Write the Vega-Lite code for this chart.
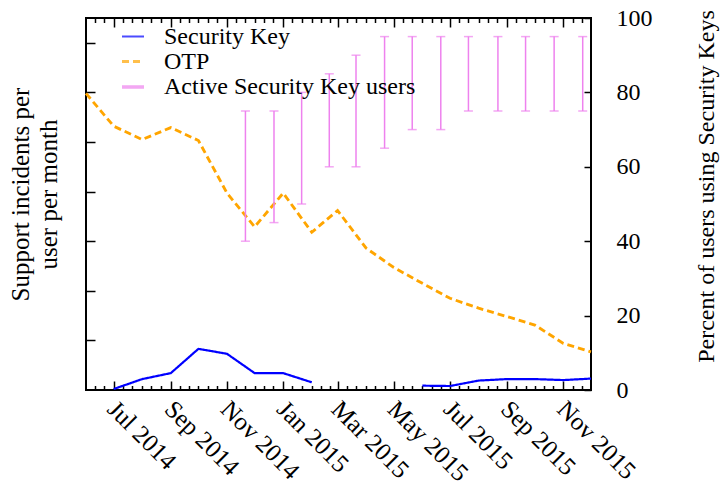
{
  "$schema": "https://vega.github.io/schema/vega-lite/v6.json",
  "width": 505,
  "height": 372,
  "autosize": {"type": "none"},
  "padding": {"left": 86, "top": 18, "right": 132, "bottom": 97},
  "config": {
    "font": "Liberation Serif",
    "view": {"stroke": "black", "strokeWidth": 2},
    "axis": {
      "labelFont": "Liberation Serif",
      "titleFont": "Liberation Serif",
      "labelFontSize": 24,
      "titleFontSize": 24,
      "titleFontWeight": "normal",
      "labelColor": "black",
      "titleColor": "black",
      "tickColor": "black",
      "tickWidth": 1.5,
      "domain": false,
      "grid": false
    }
  },
  "datasets": {
    "lines": [
      {"date": "2014-06-01", "series": "OTP", "value": 5.98},
      {"date": "2014-07-01", "series": "OTP", "value": 5.32},
      {"date": "2014-08-01", "series": "OTP", "value": 5.05},
      {"date": "2014-09-01", "series": "OTP", "value": 5.29},
      {"date": "2014-10-01", "series": "OTP", "value": 5.03},
      {"date": "2014-11-01", "series": "OTP", "value": 3.97},
      {"date": "2014-12-01", "series": "OTP", "value": 3.29},
      {"date": "2015-01-01", "series": "OTP", "value": 3.97},
      {"date": "2015-02-01", "series": "OTP", "value": 3.18},
      {"date": "2015-03-01", "series": "OTP", "value": 3.62},
      {"date": "2015-04-01", "series": "OTP", "value": 2.86},
      {"date": "2015-05-01", "series": "OTP", "value": 2.47},
      {"date": "2015-06-01", "series": "OTP", "value": 2.15},
      {"date": "2015-07-01", "series": "OTP", "value": 1.85},
      {"date": "2015-08-01", "series": "OTP", "value": 1.65},
      {"date": "2015-09-01", "series": "OTP", "value": 1.48},
      {"date": "2015-10-01", "series": "OTP", "value": 1.31},
      {"date": "2015-11-01", "series": "OTP", "value": 0.94},
      {"date": "2015-12-01", "series": "OTP", "value": 0.77},
      {"date": "2014-07-01", "series": "Security Key", "value": 0.02},
      {"date": "2014-08-01", "series": "Security Key", "value": 0.22},
      {"date": "2014-09-01", "series": "Security Key", "value": 0.34},
      {"date": "2014-10-01", "series": "Security Key", "value": 0.83},
      {"date": "2014-11-01", "series": "Security Key", "value": 0.73},
      {"date": "2014-12-01", "series": "Security Key", "value": 0.34},
      {"date": "2015-01-01", "series": "Security Key", "value": 0.34},
      {"date": "2015-02-01", "series": "Security Key", "value": 0.155},
      {"date": "2015-03-01", "series": "Security Key", "value": null},
      {"date": "2015-04-01", "series": "Security Key", "value": null},
      {"date": "2015-05-01", "series": "Security Key", "value": null},
      {"date": "2015-06-01", "series": "Security Key", "value": 0.087},
      {"date": "2015-07-01", "series": "Security Key", "value": 0.08},
      {"date": "2015-08-01", "series": "Security Key", "value": 0.19},
      {"date": "2015-09-01", "series": "Security Key", "value": 0.22},
      {"date": "2015-10-01", "series": "Security Key", "value": 0.22},
      {"date": "2015-11-01", "series": "Security Key", "value": 0.2},
      {"date": "2015-12-01", "series": "Security Key", "value": 0.23}
    ],
    "bars": [
      {"date": "2014-11-21", "series": "Active Security Key users", "lo": 40, "hi": 75},
      {"date": "2014-12-22", "series": "Active Security Key users", "lo": 45, "hi": 75},
      {"date": "2015-01-21", "series": "Active Security Key users", "lo": 50, "hi": 80},
      {"date": "2015-02-20", "series": "Active Security Key users", "lo": 60, "hi": 85},
      {"date": "2015-03-21", "series": "Active Security Key users", "lo": 60, "hi": 90},
      {"date": "2015-04-21", "series": "Active Security Key users", "lo": 65, "hi": 95},
      {"date": "2015-05-21", "series": "Active Security Key users", "lo": 70, "hi": 95},
      {"date": "2015-06-21", "series": "Active Security Key users", "lo": 70, "hi": 95},
      {"date": "2015-07-21", "series": "Active Security Key users", "lo": 75, "hi": 95},
      {"date": "2015-08-22", "series": "Active Security Key users", "lo": 75, "hi": 95},
      {"date": "2015-09-21", "series": "Active Security Key users", "lo": 75, "hi": 95},
      {"date": "2015-10-22", "series": "Active Security Key users", "lo": 75, "hi": 95},
      {"date": "2015-11-22", "series": "Active Security Key users", "lo": 75, "hi": 95}
    ]
  },
  "layer": [
    {
      "data": {"name": "lines"},
      "mark": {"type": "line", "invalid": "break-paths-show-domains"},
      "encoding": {
        "x": {
          "field": "date",
          "type": "temporal",
          "scale": {"type": "utc", "domain": [{"year": 2014, "month": 6, "date": 1, "utc": true}, {"year": 2015, "month": 12, "date": 1, "utc": true}]},
          "axis": {
            "orient": "bottom",
            "title": null,
            "values": [
              {"year": 2014, "month": 6, "date": 11, "utc": true}, {"year": 2014, "month": 6, "date": 21, "utc": true},
              {"year": 2014, "month": 7, "date": 1, "utc": true}, {"year": 2014, "month": 7, "date": 11, "utc": true}, {"year": 2014, "month": 7, "date": 21, "utc": true},
              {"year": 2014, "month": 8, "date": 1, "utc": true}, {"year": 2014, "month": 8, "date": 11, "utc": true}, {"year": 2014, "month": 8, "date": 21, "utc": true},
              {"year": 2014, "month": 9, "date": 1, "utc": true}, {"year": 2014, "month": 9, "date": 11, "utc": true}, {"year": 2014, "month": 9, "date": 21, "utc": true},
              {"year": 2014, "month": 10, "date": 1, "utc": true}, {"year": 2014, "month": 10, "date": 11, "utc": true}, {"year": 2014, "month": 10, "date": 21, "utc": true},
              {"year": 2014, "month": 11, "date": 1, "utc": true}, {"year": 2014, "month": 11, "date": 11, "utc": true}, {"year": 2014, "month": 11, "date": 21, "utc": true},
              {"year": 2014, "month": 12, "date": 1, "utc": true}, {"year": 2014, "month": 12, "date": 11, "utc": true}, {"year": 2014, "month": 12, "date": 21, "utc": true},
              {"year": 2015, "month": 1, "date": 1, "utc": true}, {"year": 2015, "month": 1, "date": 11, "utc": true}, {"year": 2015, "month": 1, "date": 21, "utc": true},
              {"year": 2015, "month": 2, "date": 1, "utc": true}, {"year": 2015, "month": 2, "date": 11, "utc": true}, {"year": 2015, "month": 2, "date": 21, "utc": true},
              {"year": 2015, "month": 3, "date": 1, "utc": true}, {"year": 2015, "month": 3, "date": 11, "utc": true}, {"year": 2015, "month": 3, "date": 21, "utc": true},
              {"year": 2015, "month": 4, "date": 1, "utc": true}, {"year": 2015, "month": 4, "date": 11, "utc": true}, {"year": 2015, "month": 4, "date": 21, "utc": true},
              {"year": 2015, "month": 5, "date": 1, "utc": true}, {"year": 2015, "month": 5, "date": 11, "utc": true}, {"year": 2015, "month": 5, "date": 21, "utc": true},
              {"year": 2015, "month": 6, "date": 1, "utc": true}, {"year": 2015, "month": 6, "date": 11, "utc": true}, {"year": 2015, "month": 6, "date": 21, "utc": true},
              {"year": 2015, "month": 7, "date": 1, "utc": true}, {"year": 2015, "month": 7, "date": 11, "utc": true}, {"year": 2015, "month": 7, "date": 21, "utc": true},
              {"year": 2015, "month": 8, "date": 1, "utc": true}, {"year": 2015, "month": 8, "date": 11, "utc": true}, {"year": 2015, "month": 8, "date": 21, "utc": true},
              {"year": 2015, "month": 9, "date": 1, "utc": true}, {"year": 2015, "month": 9, "date": 11, "utc": true}, {"year": 2015, "month": 9, "date": 21, "utc": true},
              {"year": 2015, "month": 10, "date": 1, "utc": true}, {"year": 2015, "month": 10, "date": 11, "utc": true}, {"year": 2015, "month": 10, "date": 21, "utc": true},
              {"year": 2015, "month": 11, "date": 1, "utc": true}, {"year": 2015, "month": 11, "date": 11, "utc": true}, {"year": 2015, "month": 11, "date": 21, "utc": true}
            ],
            "labelExpr": "(utcdate(datum.value) == 1 && utcmonth(datum.value) % 2 == 0) ? utcFormat(datum.value, '%b %Y') : ''",
            "tickSize": {"condition": {"test": "utcdate(datum.value) == 1 && utcmonth(datum.value) % 2 == 0", "value": -9}, "value": -4.5},
            "labelAngle": 45,
            "labelAlign": "left",
            "labelBaseline": "top",
            "labelPadding": 15,
            "labelOffset": 6,
            "labelFontSize": 25,
            "labelOverlap": false,
            "labelFlush": false,
            "labelBound": false
          }
        },
        "y": {
          "field": "value",
          "type": "quantitative",
          "scale": {"domain": [0, 7.5], "nice": false, "zero": false},
          "axis": {
            "orient": "left",
            "values": [1, 2, 3, 4, 5, 6, 7],
            "labels": false,
            "tickSize": -9,
            "title": ["Support incidents per", "user per month"],
            "titleFontSize": 25,
            "titleLineHeight": 28,
            "titlePadding": 24,
            "titleY": 176
          }
        },
        "color": {
          "field": "series",
          "type": "nominal",
          "scale": {"domain": ["Security Key", "OTP", "Active Security Key users"], "range": ["#0000ff", "#ffa500", "#ee82ee"]},
          "legend": {
            "orient": "none",
            "legendX": 34,
            "legendY": 6,
            "padding": 0,
            "title": null,
            "symbolType": "stroke",
            "symbolSize": 484,
            "symbolStrokeWidth": 2.5,
            "labelFont": "Liberation Serif",
            "labelFontSize": 24,
            "labelColor": "black",
            "labelOffset": 18,
            "labelLimit": 400,
            "rowPadding": -5
          }
        },
        "strokeDash": {
          "field": "series",
          "type": "nominal",
          "scale": {"domain": ["Security Key", "OTP", "Active Security Key users"], "range": [[1, 0], [7, 4], [1, 0]]},
          "legend": {
            "orient": "none",
            "legendX": 34,
            "legendY": 6,
            "padding": 0,
            "title": null,
            "symbolType": "stroke",
            "symbolSize": 484,
            "symbolStrokeWidth": 2.5,
            "labelFont": "Liberation Serif",
            "labelFontSize": 24,
            "labelColor": "black",
            "labelOffset": 18,
            "labelLimit": 400,
            "rowPadding": -5
          }
        },
        "strokeWidth": {
          "field": "series",
          "type": "nominal",
          "scale": {"domain": ["Security Key", "OTP", "Active Security Key users"], "range": [2.2, 3.5, 1.5]},
          "legend": null
        }
      }
    },
    {
      "data": {"name": "bars"},
      "mark": {"type": "errorbar", "ticks": {"size": 9, "thickness": 1.5}, "thickness": 1.5},
      "encoding": {
        "x": {
          "field": "date",
          "type": "temporal",
          "axis": {
            "orient": "top",
            "title": null,
            "labels": false,
            "values": [
              {"year": 2014, "month": 6, "date": 11, "utc": true}, {"year": 2014, "month": 6, "date": 21, "utc": true},
              {"year": 2014, "month": 7, "date": 1, "utc": true}, {"year": 2014, "month": 7, "date": 11, "utc": true}, {"year": 2014, "month": 7, "date": 21, "utc": true},
              {"year": 2014, "month": 8, "date": 1, "utc": true}, {"year": 2014, "month": 8, "date": 11, "utc": true}, {"year": 2014, "month": 8, "date": 21, "utc": true},
              {"year": 2014, "month": 9, "date": 1, "utc": true}, {"year": 2014, "month": 9, "date": 11, "utc": true}, {"year": 2014, "month": 9, "date": 21, "utc": true},
              {"year": 2014, "month": 10, "date": 1, "utc": true}, {"year": 2014, "month": 10, "date": 11, "utc": true}, {"year": 2014, "month": 10, "date": 21, "utc": true},
              {"year": 2014, "month": 11, "date": 1, "utc": true}, {"year": 2014, "month": 11, "date": 11, "utc": true}, {"year": 2014, "month": 11, "date": 21, "utc": true},
              {"year": 2014, "month": 12, "date": 1, "utc": true}, {"year": 2014, "month": 12, "date": 11, "utc": true}, {"year": 2014, "month": 12, "date": 21, "utc": true},
              {"year": 2015, "month": 1, "date": 1, "utc": true}, {"year": 2015, "month": 1, "date": 11, "utc": true}, {"year": 2015, "month": 1, "date": 21, "utc": true},
              {"year": 2015, "month": 2, "date": 1, "utc": true}, {"year": 2015, "month": 2, "date": 11, "utc": true}, {"year": 2015, "month": 2, "date": 21, "utc": true},
              {"year": 2015, "month": 3, "date": 1, "utc": true}, {"year": 2015, "month": 3, "date": 11, "utc": true}, {"year": 2015, "month": 3, "date": 21, "utc": true},
              {"year": 2015, "month": 4, "date": 1, "utc": true}, {"year": 2015, "month": 4, "date": 11, "utc": true}, {"year": 2015, "month": 4, "date": 21, "utc": true},
              {"year": 2015, "month": 5, "date": 1, "utc": true}, {"year": 2015, "month": 5, "date": 11, "utc": true}, {"year": 2015, "month": 5, "date": 21, "utc": true},
              {"year": 2015, "month": 6, "date": 1, "utc": true}, {"year": 2015, "month": 6, "date": 11, "utc": true}, {"year": 2015, "month": 6, "date": 21, "utc": true},
              {"year": 2015, "month": 7, "date": 1, "utc": true}, {"year": 2015, "month": 7, "date": 11, "utc": true}, {"year": 2015, "month": 7, "date": 21, "utc": true},
              {"year": 2015, "month": 8, "date": 1, "utc": true}, {"year": 2015, "month": 8, "date": 11, "utc": true}, {"year": 2015, "month": 8, "date": 21, "utc": true},
              {"year": 2015, "month": 9, "date": 1, "utc": true}, {"year": 2015, "month": 9, "date": 11, "utc": true}, {"year": 2015, "month": 9, "date": 21, "utc": true},
              {"year": 2015, "month": 10, "date": 1, "utc": true}, {"year": 2015, "month": 10, "date": 11, "utc": true}, {"year": 2015, "month": 10, "date": 21, "utc": true},
              {"year": 2015, "month": 11, "date": 1, "utc": true}, {"year": 2015, "month": 11, "date": 11, "utc": true}, {"year": 2015, "month": 11, "date": 21, "utc": true}
            ],
            "tickSize": {"condition": {"test": "utcdate(datum.value) == 1 && utcmonth(datum.value) % 2 == 0", "value": -9}, "value": -4.5}
          }
        },
        "y": {
          "field": "lo",
          "type": "quantitative",
          "scale": {"domain": [0, 100], "nice": false},
          "axis": {
            "orient": "right",
            "values": [0, 20, 40, 60, 80, 100],
            "tickSize": -7,
            "labelPadding": 32,
            "title": "Percent of users using Security Keys",
            "titleAngle": 270,
            "titlePadding": 66,
            "titleY": 168
          }
        },
        "y2": {"field": "hi"},
        "color": {
          "field": "series",
          "type": "nominal",
          "scale": {"domain": ["Security Key", "OTP", "Active Security Key users"], "range": ["#0000ff", "#ffa500", "#ee82ee"]},
          "legend": {
            "orient": "none",
            "legendX": 34,
            "legendY": 6,
            "padding": 0,
            "title": null,
            "symbolType": "stroke",
            "symbolSize": 484,
            "symbolStrokeWidth": 2.5,
            "labelFont": "Liberation Serif",
            "labelFontSize": 24,
            "labelColor": "black",
            "labelOffset": 18,
            "labelLimit": 400,
            "rowPadding": -5
          }
        }
      }
    }
  ],
  "resolve": {"scale": {"y": "independent"}, "axis": {"x": "independent", "y": "independent"}}
}
